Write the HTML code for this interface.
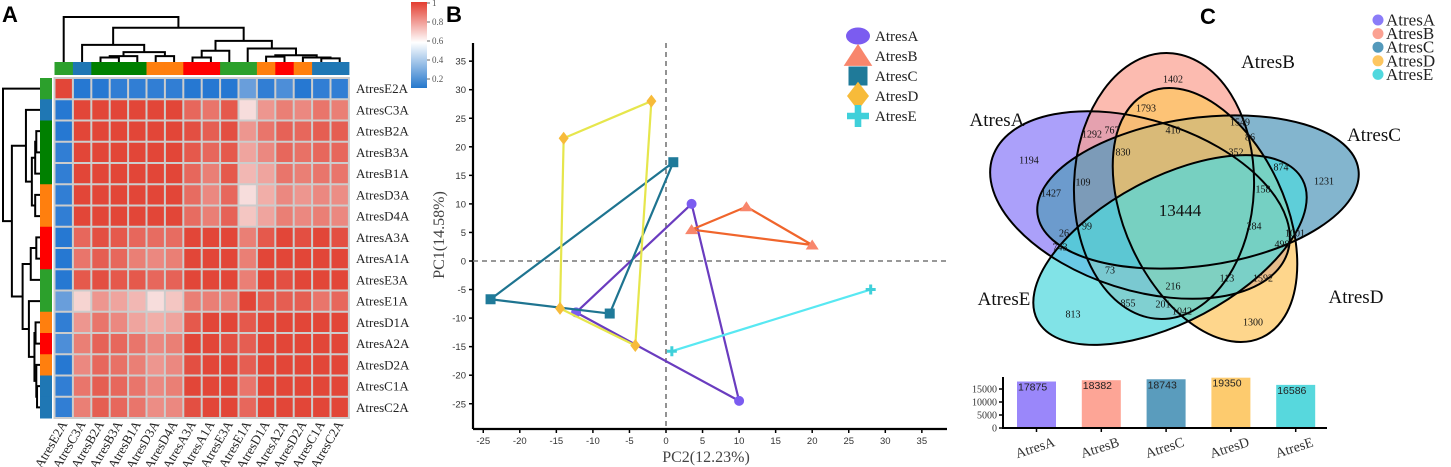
<!DOCTYPE html>
<html><head><meta charset="utf-8"><style>
html,body{margin:0;padding:0;background:#fff;}
svg{display:block;font-family:"Liberation Serif",serif;}
</style></head><body>
<svg id="root" width="1451" height="467" viewBox="0 0 1451 467" xmlns="http://www.w3.org/2000/svg">
<defs>
<linearGradient id="cbar" x1="0" y1="0" x2="0" y2="1">
<stop offset="0" stop-color="#e33d30"/><stop offset="0.47" stop-color="#ffffff"/><stop offset="1" stop-color="#2577cc"/>
</linearGradient>
</defs>
<text x="2" y="22" font-family="Liberation Sans" font-weight="bold" font-size="22">A</text>
<text x="446" y="22" font-family="Liberation Sans" font-weight="bold" font-size="22">B</text>
<text x="1200" y="24" font-family="Liberation Sans" font-weight="bold" font-size="22">C</text>
<g id="heat"></g>
<g id="pca"></g>
<g id="venn"></g>
<g id="bars"></g>
</svg>
<script>
// ---------- Heatmap data ----------
const sampleNames = ["AtresE2A","AtresC3A","AtresB2A","AtresB3A","AtresB1A","AtresD3A","AtresD4A","AtresA3A","AtresA1A","AtresE3A","AtresE1A","AtresD1A","AtresA2A","AtresD2A","AtresC1A","AtresC2A"];
const sampleGroups = ["E","C","B","B","B","D","D","A","A","E","E","D","A","D","C","C"];
const colorbarTicks = [1,0.8,0.6,0.4,0.2];
const corrRows = [
[1,.12,.18,.2,.2,.2,.2,.15,.17,.13,.3,.2,.25,.18,.2,.2],
[.12,1,.92,.92,.92,.93,.95,.85,.82,.88,.6,.75,.8,.78,.82,.8],
[.18,.92,1,.96,.94,.93,.92,.9,.87,.9,.75,.82,.86,.85,.87,.87],
[.2,.92,.96,1,.94,.93,.93,.88,.85,.88,.72,.78,.85,.83,.85,.85],
[.2,.92,.94,.94,1,.96,.95,.85,.8,.88,.68,.72,.82,.8,.82,.82],
[.2,.93,.93,.93,.96,1,.97,.84,.78,.85,.6,.7,.78,.75,.78,.77],
[.2,.95,.92,.93,.95,.97,1,.84,.8,.86,.65,.72,.8,.78,.8,.78],
[.15,.85,.9,.88,.85,.84,.84,1,.92,.93,.8,.88,.92,.9,.92,.9],
[.17,.82,.87,.85,.8,.78,.8,.92,1,.95,.8,.93,.92,.93,.95,.93],
[.13,.88,.9,.88,.88,.85,.86,.93,.95,1,.8,.92,.9,.92,.93,.92],
[.3,.62,.75,.72,.68,.6,.65,.8,.8,.8,1,.88,.87,.87,.82,.85],
[.2,.75,.82,.78,.72,.7,.72,.88,.93,.92,.88,1,.93,.93,.92,.94],
[.25,.8,.86,.85,.82,.78,.8,.92,.92,.9,.87,.93,1,.94,.92,.92],
[.18,.78,.85,.83,.8,.75,.78,.9,.93,.92,.87,.93,.94,1,.95,.93],
[.2,.82,.87,.85,.82,.78,.8,.92,.95,.93,.82,.92,.92,.95,1,.96],
[.2,.8,.87,.85,.82,.77,.78,.9,.93,.92,.85,.94,.92,.93,.96,1]];
const tree = [0,[[1,[[[2,3,0.1],4,0.13],[5,6,0.13],0.22],0.38],[[[7,8,0.1],9,0.25],[10,[[11,12,0.12],[13,[14,15,0.08],0.1],0.15],0.3],0.47],0.76],1.0];
// ---------- PCA data ----------
const pcaGroups = ["AtresA","AtresB","AtresC","AtresD","AtresE"];
const pcaAx = [-12.3,3.5,10];   const pcaAy = [-9,10,-24.5];
const pcaBx = [3.5,11,20];      const pcaBy = [5.5,9.5,2.8];
const pcaCx = [-24,1,-7.7];     const pcaCy = [-6.7,17.3,-9.2];
const pcaDx = [-14,-2,-4.2,-14.5]; const pcaDy = [21.5,28,-14.8,-8.3];
const pcaEx = [0.8,28];         const pcaEy = [-15.8,-5];
const pcaTicks = [-25,-20,-15,-10,-5,0,5,10,15,20,25,30,35];
// ---------- Bar data ----------
const setNames = ["AtresA","AtresB","AtresC","AtresD","AtresE"];
const setSizes = [17875,18382,18743,19350,16586];
const barTicks = [0,5000,10000,15000];
// ---------- Venn labels ----------
const vennCounts = ["1402","1793","1549","1292","767","410","86","830","352","1194","874","1231","109","1427","158","13444","99","284","26","1001","743","498","73","113","1592","216","855","201","1042","813","1300"];

const NS="http://www.w3.org/2000/svg";
function mk(tag,attrs,parent){const e=document.createElementNS(NS,tag);for(const k in attrs)e.setAttribute(k,attrs[k]);parent.appendChild(e);return e;}

// ---------- Heatmap ----------
(function(){
const g=document.getElementById('heat');
const X0=54.5,Y0=78,CW=18.4,CH=21.25,n=sampleNames.length;
const groupCol={A:"#ff0000",B:"#008000",C:"#1f77b4",D:"#ff7f0e",E:"#2ca02c"};
function cx(i){return X0+CW*(i+0.5);} function cy(i){return Y0+CH*(i+0.5);}
function mix(a,b,t){return a.map((v,k)=>Math.round(v+(b[k]-v)*t));}
function color(v){const red=[226,70,56],wh=[250,240,240],bl=[38,120,210];
 let c; if(v>=0.56){c=mix(wh,red,Math.min(1,(v-0.56)/0.36));} else {c=mix(wh,bl,Math.min(1,(0.56-v)/0.38));}
 return "rgb("+c.join(",")+")";}
const bg=mk('rect',{x:X0-1,y:Y0-1,width:CW*n+2,height:CH*n+2,fill:"#cccccc"},g);


for(let r=0;r<n;r++)for(let c=0;c<n;c++){
 const cell=mk('rect',{x:X0+CW*c+1,y:Y0+CH*r+1,width:CW-2,height:CH-2,fill:color(corrRows[r][c])},g);
 
 
}
for(let i=0;i<n;i++){
 const tb=mk('rect',{x:X0+CW*i,y:62,width:CW+0.5,height:13,fill:groupCol[sampleGroups[i]]},g);
 
 
 const lb=mk('rect',{x:40,y:Y0+CH*i,width:12,height:CH+0.5,fill:groupCol[sampleGroups[i]]},g);
 
 
 const rl=mk('text',{x:356,y:cy(i)+4.5,'font-size':13,fill:"#222"},g); rl.textContent=sampleNames[i];
 
 
 const cl=mk('text',{x:0,y:0,'font-size':13,fill:"#222",'text-anchor':'end',transform:"translate("+(cx(i)+4)+",424) rotate(-60)"},g); cl.textContent=sampleNames[i];
 
 
}
function layout(node,pos){ if(typeof node==='number') return {p:pos(node),h:0};
 const a=layout(node[0],pos),b=layout(node[1],pos); return {p:(a.p+b.p)/2,h:node[2],a,b};}
const dc=mk('g',{},g);


const dr=mk('g',{},g);


function drawCol(t){ if(!t.a) return; const y=62-t.h*45;
 mk('path',{d:`M${t.a.p},${62-t.a.h*45}V${y}H${t.b.p}V${62-t.b.h*45}`,fill:"none",stroke:"#000","stroke-width":2},dc);
 drawCol(t.a);drawCol(t.b);}
function drawRow(t){ if(!t.a) return; const x=40-t.h*37;
 mk('path',{d:`M${40-t.a.h*37},${t.a.p}H${x}V${t.b.p}H${40-t.b.h*37}`,fill:"none",stroke:"#000","stroke-width":2},dr);
 drawRow(t.a);drawRow(t.b);}
drawCol(layout(tree,i=>cx(i)));
drawRow(layout(tree,i=>cy(i)));
const cb=mk('rect',{x:411,y:2,width:16,height:86,fill:"url(#cbar)"},g);


colorbarTicks.forEach(v=>{const y=3+(1-v)*95;
 mk('line',{x1:427,x2:430,y1:y,y2:y,stroke:"#666"},g);
 const t=mk('text',{x:432,y:y+3,'font-size':9,fill:"#555"},g); t.textContent=String(v);
 
 });
})();

// ---------- PCA ----------
(function(){
const g=document.getElementById('pca');
const px=x=>666+x*7.31, py=y=>261-y*5.71;
mk('line',{x1:473,y1:43,x2:473,y2:429,stroke:"#000","stroke-width":2.2},g);
mk('line',{x1:473,y1:429,x2:947,y2:429,stroke:"#000","stroke-width":2.2},g);
pcaTicks.forEach(t=>{
 mk('line',{x1:px(t),x2:px(t),y1:429,y2:433,stroke:"#000","stroke-width":1.5},g);
 const tx=mk('text',{x:px(t),y:444,'font-size':9.5,'text-anchor':'middle','font-family':'Liberation Sans',fill:"#333"},g); tx.textContent=String(t);
 
 
 mk('line',{x1:469,x2:473,y1:py(t),y2:py(t),stroke:"#000","stroke-width":1.5},g);
 const ty=mk('text',{x:466,y:py(t)+3.5,'font-size':9.5,'text-anchor':'end','font-family':'Liberation Sans',fill:"#333"},g); ty.textContent=String(t);
 
 
});
mk('line',{x1:px(0),x2:px(0),y1:43,y2:429,stroke:"#777","stroke-width":1.6,"stroke-dasharray":"5,4"},g);
mk('line',{x1:473,x2:947,y1:py(0),y2:py(0),stroke:"#777","stroke-width":1.6,"stroke-dasharray":"5,4"},g);
const xt=mk('text',{x:706,y:462,'font-size':16,'text-anchor':'middle',fill:"#444"},g); xt.textContent="PC2(12.23%)";


const yt=mk('text',{x:0,y:0,'font-size':16,'text-anchor':'middle',fill:"#444",transform:"translate(444,235) rotate(-90)"},g); yt.textContent="PC1(14.58%)";


const sets=[[pcaAx,pcaAy,"#6a3cbf","#7b5cf0","circle"],[pcaBx,pcaBy,"#f0652c","#f8866c","tri"],[pcaCx,pcaCy,"#1e7490","#1f7a99","square"],[pcaDx,pcaDy,"#e6e64c","#f7bb3a","diamond"],[pcaEx,pcaEy,"#58e8f2","#3fd0da","plus"]];
function marker(shape,x,y,fill,s,parent){
 if(shape==="circle") return mk('ellipse',{cx:x,cy:y,rx:s*0.5,ry:s*0.5,fill},parent);
 if(shape==="tri") return mk('path',{d:`M${x},${y-s*0.55}L${x+s*0.65},${y+s*0.45}L${x-s*0.65},${y+s*0.45}Z`,fill},parent);
 if(shape==="square") return mk('rect',{x:x-s/2,y:y-s/2,width:s,height:s,fill},parent);
 if(shape==="diamond") return mk('path',{d:`M${x},${y-s*0.65}L${x+s*0.5},${y}L${x},${y+s*0.65}L${x-s*0.5},${y}Z`,fill},parent);
 return mk('path',{d:`M${x-s*0.15},${y-s*0.5}h${s*0.3}v${s*0.35}h${s*0.35}v${s*0.3}h${-s*0.35}v${s*0.35}h${-s*0.3}v${-s*0.35}h${-s*0.35}v${-s*0.3}h${s*0.35}Z`,fill},parent);
}
sets.forEach((s,k)=>{
 const [xs,ys,lc,mc,shape]=s;
 const pts=xs.map((x,i)=>px(x)+","+py(ys[i])).join(" ");
 const poly=mk(xs.length>2?'polygon':'polyline',{points:pts,fill:"none",stroke:lc,"stroke-width":2.2,"stroke-linejoin":"round"},g);
 
 
 xs.forEach((x,i)=>{const m=marker(shape,px(x),py(ys[i]),mc,10,g);
  
  });
 const ly=36+k*20;
 const lm=marker(shape,858,ly,mc,shape==="square"?19:22,g);
 if(shape==="circle"){lm.setAttribute('rx',12);lm.setAttribute('ry',8.5);}
 
 
 const lt=mk('text',{x:875,y:ly+5,'font-size':15,fill:"#222"},g); lt.textContent=pcaGroups[k];
 
 
});
})();

// ---------- Venn ----------
(function(){
const g=document.getElementById('venn');
const ell=[
 ["AtresA",1140,205,155,85,17.8,"#8b7cf8"],
 ["AtresB",1164,186,133,90,92,"#fba192"],
 ["AtresC",1198,192,162,74,-8,"#5399bb"],
 ["AtresD",1205,215,135,80,65,"#fdc660"],
 ["AtresE",1170,250,150,72,-28,"#50d8de"]];
ell.forEach(e=>{const el=mk('ellipse',{cx:e[1],cy:e[2],rx:e[3],ry:e[4],transform:`rotate(${e[5]} ${e[1]} ${e[2]})`,fill:e[6],"fill-opacity":0.72},g);
 
 });
ell.forEach(e=>{mk('ellipse',{cx:e[1],cy:e[2],rx:e[3],ry:e[4],transform:`rotate(${e[5]} ${e[1]} ${e[2]})`,fill:"none",stroke:"#000","stroke-width":2},g);});
const pos=[[1173,79],[1146,108],[1240,122],[1092,134],[1112,130],[1173,130],[1250,137],[1123,152],[1236,152],[1029,160],[1281,167],[1324,181],[1083,182],[1051,193],[1263,189],[1180,210],[1087,226],[1254,226],[1064,233],[1295,233],[1060,247],[1282,244],[1110,270],[1227,278],[1263,278],[1173,286],[1128,303],[1163,304],[1182,311],[1073,314],[1253,322]];
vennCounts.forEach((c,i)=>{const big=c==="13444";
 const t=mk('text',{x:pos[i][0],y:pos[i][1]+(big?6:3.5),'font-size':big?17:10,'text-anchor':'middle',fill:"#111"},g); t.textContent=c;
 
 });
const sl=[["AtresA",997,126],["AtresB",1268,68],["AtresC",1374,141],["AtresE",1004,305],["AtresD",1356,303]];
sl.forEach(s=>{const t=mk('text',{x:s[1],y:s[2],'font-size':19,'text-anchor':'middle',fill:"#111"},g); t.textContent=s[0];
 
 });
ell.forEach((e,k)=>{const y=20+k*13.6;
 const d=mk('circle',{cx:1378,cy:y,r:5.5,fill:e[6]},g);
 
 
 const t=mk('text',{x:1386,y:y+5.5,'font-size':17,fill:"#222"},g); t.textContent=e[0];
 
 });
})();

// ---------- Bars ----------
(function(){
const g=document.getElementById('bars');
const cols=["#9a87fa","#fda596","#5a9cbd","#fdcb6e","#57d8dd"];
const y=v=>428-v*0.0026, bx=i=>1017+i*64.8, bw=39;
setSizes.forEach((v,i)=>{
 const r=mk('rect',{x:bx(i),y:y(v),width:bw,height:428-y(v),fill:cols[i]},g);
 
 
 const t=mk('text',{x:bx(i)+1,y:y(v)+9,'font-size':10.5,fill:"#222",'font-family':'Liberation Sans'},g); t.textContent=String(v);
 
 
 const xl=mk('text',{x:0,y:0,'font-size':14,'text-anchor':'middle',fill:"#333",transform:`translate(${bx(i)+bw/2},452) rotate(-18)`},g); xl.textContent=setNames[i];
 
 
 mk('line',{x1:bx(i)+bw/2,x2:bx(i)+bw/2,y1:428,y2:432,stroke:"#000","stroke-width":1.5},g);
});
mk('line',{x1:1003,y1:377,x2:1003,y2:429,stroke:"#000","stroke-width":2},g);
mk('line',{x1:1002,y1:428,x2:1327,y2:428,stroke:"#000","stroke-width":2},g);
barTicks.forEach(v=>{mk('line',{x1:999,x2:1003,y1:y(v),y2:y(v),stroke:"#000","stroke-width":1.5},g);
 const t=mk('text',{x:997,y:y(v)+3.5,'font-size':10,'text-anchor':'end',fill:"#333"},g); t.textContent=String(v);
 
 });
})();
</script>
</body></html>
